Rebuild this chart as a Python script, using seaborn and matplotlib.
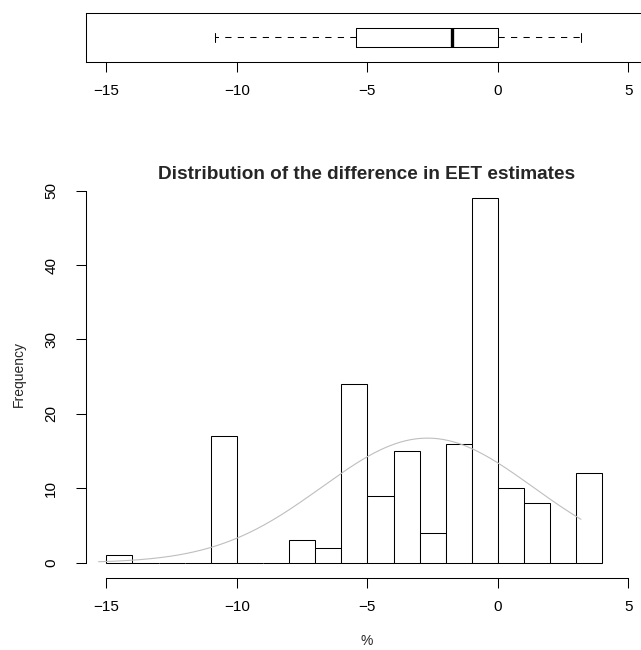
import numpy as np
import pandas as pd
import matplotlib
matplotlib.use("Agg")
import matplotlib.pyplot as plt
import seaborn as sns

# ---- data ----
bin_edges = [-15, -14, -13, -12, -11, -10, -9, -8, -7, -6, -5, -4, -3, -2, -1, 0, 1, 2, 3, 4]
counts = [1, 0, 0, 0, 17, 0, 0, 3, 2, 24, 9, 15, 4, 16, 49, 10, 8, 0, 12]

box_whislo = -10.84
box_q1 = -5.43
box_med = -1.75
box_q3 = 0.0
box_whishi = 3.18

fit_mean = -2.7
fit_sd = 4.05
curve_start = -15.3
curve_end = 3.18

x_ticks = [-15, -10, -5, 0, 5]
y_ticks = [0, 10, 20, 30, 40, 50]

title = "Distribution of the difference in EET estimates"
xlabel = "%"
ylabel = "Frequency"

# ---- style ----
sns.set_style("white")
plt.rcParams["font.family"] = ["Liberation Sans", "DejaVu Sans"]
FS_TICK = 11
FS_LAB = 10

W, H = 641, 650
fig = plt.figure(figsize=(W / 100, H / 100), dpi=100)


def frac(x0, y0, x1, y1):
    return [x0 / W, 1 - y1 / H, (x1 - x0) / W, (y1 - y0) / H]


LW = 0.75

# ---- top boxplot ----
axb = fig.add_axes(frac(85.5, 12.7, 649.3, 62.3))
stats = [dict(whislo=box_whislo, q1=box_q1, med=box_med, q3=box_q3,
              whishi=box_whishi, fliers=[])]
kw = dict(positions=[0.5], widths=0.377, capwidths=[0.17], showfliers=False,
          patch_artist=False,
          boxprops=dict(color="black", linewidth=LW),
          medianprops=dict(color="black", linewidth=2.4, solid_capstyle="butt"),
          whiskerprops=dict(color="black", linewidth=LW, linestyle=(0, (6, 6))),
          capprops=dict(color="black", linewidth=LW))
try:
    axb.bxp(stats, orientation="horizontal", **kw)
except TypeError:
    axb.bxp(stats, vert=False, **kw)
axb.set_xlim(-15.8, 5.8)
axb.set_ylim(0, 1)
axb.set_yticks([])
axb.set_xticks(x_ticks)
axb.set_xticklabels(["\u2212" + str(abs(t)) if t < 0 else str(t) for t in x_ticks])
axb.tick_params(axis="x", bottom=True, direction="out", length=7.2, width=LW,
                pad=8.6, labelsize=FS_TICK, colors="black")
for s in axb.spines.values():
    s.set_visible(True)
    s.set_color("black")
    s.set_linewidth(LW)

# ---- histogram ----
ax = fig.add_axes(frac(85.5, 175.8, 649.3, 577.6))
centers = [(bin_edges[i] + bin_edges[i + 1]) / 2 for i in range(len(counts))]
df = pd.DataFrame({"center": centers, "count": counts})
sns.histplot(data=df, x="center", weights="count", bins=bin_edges, ax=ax,
             color="white", edgecolor="black", linewidth=LW, alpha=1.0)

xs = np.linspace(curve_start, curve_end, 300)
n_total = sum(counts)
dens = n_total * 1.0 / (fit_sd * np.sqrt(2 * np.pi)) * np.exp(-0.5 * ((xs - fit_mean) / fit_sd) ** 2)
sns.lineplot(x=xs, y=dens, ax=ax, color="#bebebe", linewidth=0.8)

ax.set_xlim(-15.8, 5.8)
ax.set_ylim(-2, 52)
ax.set_xlabel("")
ax.set_ylabel("")
ax.spines["top"].set_visible(False)
ax.spines["right"].set_visible(False)
for side in ["left", "bottom"]:
    ax.spines[side].set_visible(True)
    ax.spines[side].set_color("black")
    ax.spines[side].set_linewidth(LW)
ax.spines["left"].set_bounds(0, 50)
ax.spines["bottom"].set_bounds(-15, 5)
ax.set_xticks(x_ticks)
ax.set_xticklabels(["\u2212" + str(abs(t)) if t < 0 else str(t) for t in x_ticks])
ax.set_yticks(y_ticks)
ax.set_yticklabels([str(t) for t in y_ticks], rotation=90, va="center")
ax.tick_params(axis="x", bottom=True, direction="out", length=7.2, width=LW,
               pad=8.6, labelsize=FS_TICK, colors="black")
ax.tick_params(axis="y", left=True, direction="out", length=7.2, width=LW,
               pad=12.5, labelsize=FS_TICK, colors="black")

# ---- texts ----
fig.text(367 / W, 1 - 175 / H, title, ha="center", va="center",
         fontsize=13.7, fontweight="bold")
fig.text(367 / W, 1 - 641 / H, xlabel, ha="center", va="center", fontsize=FS_LAB)
fig.text(19 / W, 1 - 374 / H, ylabel, ha="center", va="center", fontsize=FS_LAB,
         rotation=90)

fig.savefig("out.png", dpi=100)
